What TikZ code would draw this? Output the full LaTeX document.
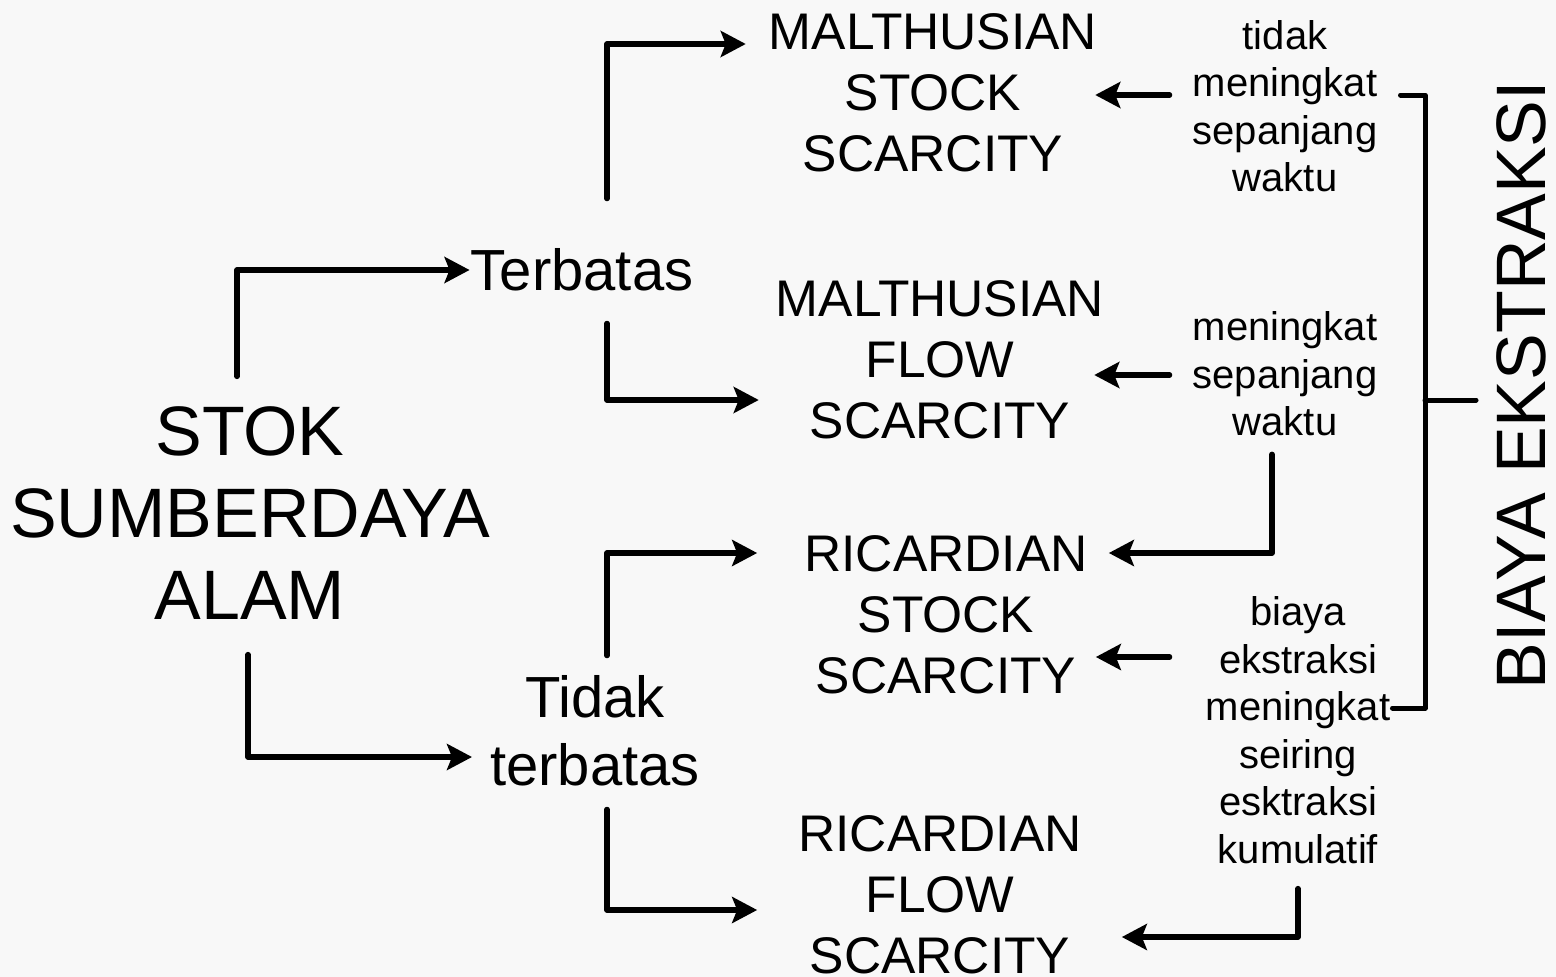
\documentclass[tikz,border=0pt]{standalone}
\usepackage{fontspec}
\setmainfont{Liberation Sans}
\usepackage{tikz}
\usetikzlibrary{arrows.meta, positioning}
\definecolor{bgcol}{HTML}{F8F8F8}

\begin{document}
\begin{tikzpicture}[x=1pt, y=-1pt]
			% Define style
			\tikzset{
				big/.style={font=\fontsize{70}{82}\selectfont, align=center, inner sep=0pt},
				mid/.style={font=\fontsize{58}{68}\selectfont, align=center, inner sep=0pt},
				scarce/.style={font=\fontsize{51.5}{61}\selectfont, align=center, inner sep=0pt},
				note/.style={font=\fontsize{40}{47.5}\selectfont, align=center, inner sep=0pt},
				arrow/.style={line width=5.5pt, line cap=round, line join=round, -{Stealth[length=25pt, width=26pt, inset=5pt]}},
				bracket/.style={line width=5pt, line cap=round, line join=round}
			}
			\fill[bgcol] (0,0) rectangle (1556,977);
			\useasboundingbox (0,0) rectangle (1556,977);
			
			% Define blocks
			\node (stok) [big] at (250,513) {STOK\\SUMBERDAYA\\ALAM};
			\node (terbatas) [mid] at (582,270) {Terbatas};
			\node (tidak) [mid] at (595,731) {Tidak\\terbatas};
			\node (mstock) [scarce] at (933,93) {MALTHUSIAN\\STOCK\\SCARCITY};
			\node (mflow) [scarce] at (940,360) {MALTHUSIAN\\FLOW\\SCARCITY};
			\node (rstock) [scarce] at (946,615) {RICARDIAN\\STOCK\\SCARCITY};
			\node (rflow) [scarce] at (940,895) {RICARDIAN\\FLOW\\SCARCITY};
			\node (tetap) [note] at (1285,106) {tidak\\meningkat\\sepanjang\\waktu};
			\node (naik) [note] at (1285,374) {meningkat\\sepanjang\\waktu};
			\node (kumul) [note] at (1298,730) {biaya\\ekstraksi\\meningkat\\seiring\\esktraksi\\kumulatif};
			\node (biaya) [font=\fontsize{70}{70}\selectfont, rotate=90, inner sep=0pt] at (1521,385) {BIAYA EKSTRAKSI};
			\coordinate (brk) at (1425,400);
			\coordinate (brkend) at ([xshift=-20pt]biaya.north);
			
			% Define arrows
			\draw [arrow] ([xshift=-13pt, yshift=30pt]stok.north) |- ([xshift=-1pt]terbatas.west);
			\draw [arrow] ([xshift=-2pt, yshift=-35pt]stok.south) |- ([xshift=-18pt, yshift=-26pt]tidak.west);
			\draw [arrow] ([xshift=25pt, yshift=50pt]terbatas.north) |- ([xshift=-23pt, yshift=49pt]mstock.west);
			\draw [arrow] ([xshift=25pt, yshift=-32pt]terbatas.south) |- ([xshift=-17pt, yshift=-40pt]mflow.west);
			\draw [arrow] ([xshift=12pt, yshift=20pt]tidak.north) |- ([xshift=-47pt, yshift=62pt]rstock.west);
			\draw [arrow] ([xshift=12pt, yshift=-23pt]tidak.south) |- ([xshift=-41pt, yshift=-15pt]rflow.west);
			\draw [arrow] ([xshift=-23pt, yshift=11pt]tetap.west) -- ([xshift=-2pt, yshift=-2pt]mstock.east);
			\draw [arrow] ([xshift=-23pt, yshift=-1pt]naik.west) -- ([xshift=-10pt, yshift=-15pt]mflow.east);
			\draw [arrow] ([xshift=-36pt, yshift=73pt]kumul.west) -- ([xshift=8pt, yshift=-42pt]rstock.east);
			\draw [arrow] ([xshift=-13pt, yshift=-18pt]naik.south) |- ([xshift=21pt, yshift=62pt]rstock.east);
			\draw [arrow] ([yshift=-25pt]kumul.south) |- ([xshift=40pt, yshift=-42pt]rflow.east);
			\draw [bracket] ([xshift=23pt, yshift=11pt]tetap.east) -| (brk) |- ([xshift=2pt, yshift=22pt]kumul.east);
			\draw [bracket] (brk) -- (brk -| brkend);
		\end{tikzpicture}
\end{document}
